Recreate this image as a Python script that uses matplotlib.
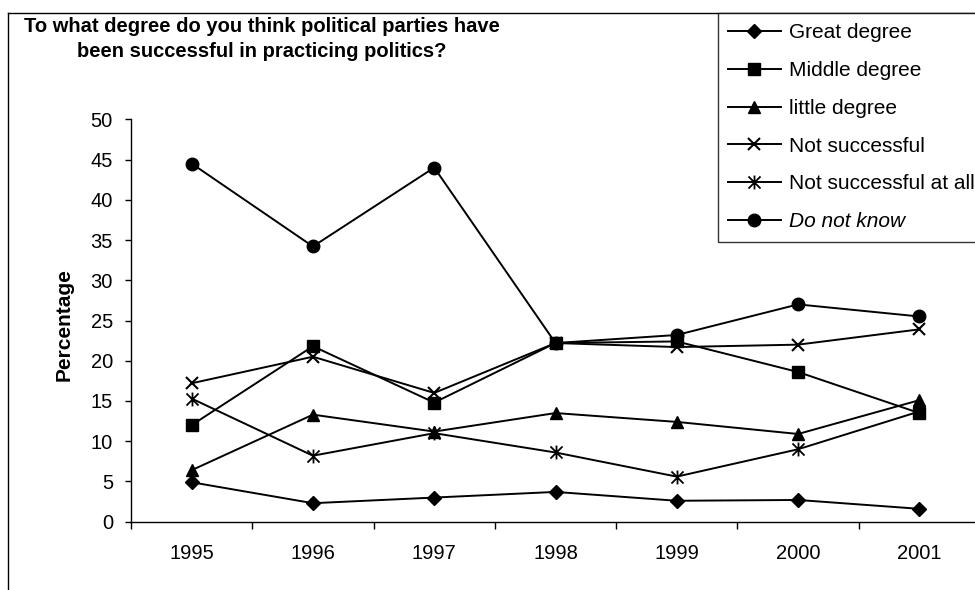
import matplotlib
matplotlib.use("Agg")
import matplotlib.pyplot as plt
from matplotlib.path import Path
from matplotlib.lines import Line2D

plt.rcParams['font.family'] = ['Liberation Sans', 'DejaVu Sans']

years = ["1995", "1996", "1997", "1998", "1999", "2000", "2001"]

great_degree = [4.9, 2.3, 3.0, 3.7, 2.6, 2.7, 1.6]
middle_degree = [12.0, 21.8, 14.8, 22.2, 22.4, 18.6, 13.5]
little_degree = [6.4, 13.3, 11.2, 13.5, 12.4, 10.9, 15.1]
not_successful = [17.2, 20.5, 16.0, 22.2, 21.7, 22.0, 23.9]
not_successful_at_all = [15.3, 8.2, 11.0, 8.6, 5.6, 9.0, 13.7]
do_not_know = [44.5, 34.2, 44.0, 22.2, 23.2, 27.0, 25.5]

series_labels = ["Great degree", "Middle degree", "little degree",
                 "Not successful", "Not successful at all", "Do not know"]
y_ticks = [0, 5, 10, 15, 20, 25, 30, 35, 40, 45, 50]

# star marker: an X crossed by a vertical bar
star = Path([(-1, -1), (1, 1), (-1, 1), (1, -1), (0, -1.15), (0, 1.15)],
            [Path.MOVETO, Path.LINETO, Path.MOVETO, Path.LINETO,
             Path.MOVETO, Path.LINETO])

styles = [
    dict(marker="D", ms=7),
    dict(marker="s", ms=9),
    dict(marker="^", ms=9),
    dict(marker="x", ms=9, mew=1.5),
    dict(marker=star, ms=10, mew=1.3),
    dict(marker="o", ms=9),
]
all_series = [great_degree, middle_degree, little_degree,
              not_successful, not_successful_at_all, do_not_know]

fig = plt.figure(figsize=(9.75, 5.9), dpi=100)
ax = fig.add_axes([131 / 975, 1 - 521.7 / 590, 849 / 975, (521.7 - 119.3) / 590])

x = list(range(len(years)))
handles = []
for vals, lab, st in zip(all_series, series_labels, styles):
    h, = ax.plot(x, vals, color="black", lw=1.4, mfc="black", mec="black",
                 label=lab, clip_on=False, **st)
    handles.append(h)

ax.set_xlim(-0.5, len(years) - 0.5)
ax.set_ylim(0, 50)
ax.set_yticks(y_ticks)
ax.set_yticklabels([str(v) for v in y_ticks])
ax.set_xticks(x)
ax.set_xticklabels(years)
ax.set_xticks([i - 0.5 for i in range(len(years) + 1)], minor=True)

ax.tick_params(axis="x", which="major", length=0, pad=16, labelsize=14.5)
ax.tick_params(axis="x", which="minor", length=5, width=1, direction="out")
ax.tick_params(axis="y", length=4, width=1, direction="out", pad=9, labelsize=14.5)

for side in ("top", "right"):
    ax.spines[side].set_visible(False)
for side in ("left", "bottom"):
    ax.spines[side].set_linewidth(1)

ax.set_ylabel("Percentage", fontsize=15, fontweight="bold")
ax.yaxis.set_label_coords(-0.068, 0.489)

fig.text(262 / 975, 1 - 39 / 590,
         "To what degree do you think political parties have\n"
         "been successful in practicing politics?",
         ha="center", va="center", fontsize=14.5, fontweight="bold",
         linespacing=1.42)

leg = fig.legend(handles=handles, loc="upper left",
                 bbox_to_anchor=(718 / 975, 1 - 13 / 590),
                 bbox_transform=fig.transFigure, borderaxespad=0,
                 fontsize=15, frameon=True, fancybox=False, edgecolor="black",
                 handlelength=2.5, handletextpad=0.4, labelspacing=0.9,
                 borderpad=0.5, numpoints=1)
leg.get_frame().set_linewidth(1)
leg.get_texts()[-1].set_fontstyle("italic")

# outer chart frame (top and left edges)
fig.add_artist(Line2D([8 / 975, 1.0], [1 - 13 / 590, 1 - 13 / 590],
                      transform=fig.transFigure, color="black", lw=1))
fig.add_artist(Line2D([8 / 975, 8 / 975], [0, 1 - 13 / 590],
                      transform=fig.transFigure, color="black", lw=1))

fig.savefig("out.png", dpi=100)
